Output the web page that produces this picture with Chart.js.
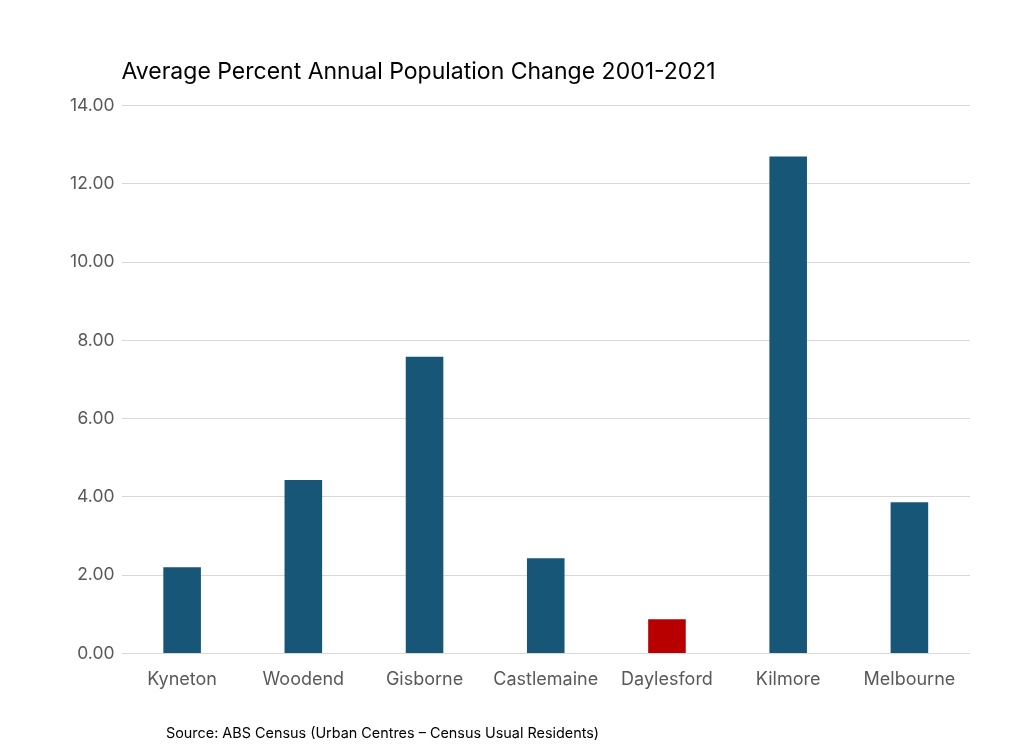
<!DOCTYPE html>
<html>
<head>
<meta charset="utf-8">
<script src="https://cdn.jsdelivr.net/npm/chart.js@4"></script>
<style>
  body { margin: 0; background: #fff; }
  #wrap { position: relative; width: 1010px; height: 753px; }
  #source { position: absolute; left: 166px; top: 724px; font: 14.4px Inter, sans-serif; color: #000; }
</style>
</head>
<body>
<div id="wrap">
  <canvas id="chartPop" width="1010" height="753"></canvas>
  <div id="source">Source: ABS Census (Urban Centres – Census Usual Residents)</div>
</div>
<script>
// data
const towns = ["Kyneton", "Woodend", "Gisborne", "Castlemaine", "Daylesford", "Kilmore", "Melbourne"];
const avgChange = [2.20, 4.43, 7.58, 2.43, 0.87, 12.70, 3.86];
const barColours = ["#175676", "#175676", "#175676", "#175676", "#B80000", "#175676", "#175676"];
const yTicks = [0, 2, 4, 6, 8, 10, 12, 14];

const ctx = document.querySelector("#chartPop").getContext('2d');

const popChart = new Chart(ctx, {
  type: 'bar',
  data: {
    labels: towns,
    datasets: [{
      label: 'Average Percent Annual Population Change',
      data: avgChange,
      backgroundColor: barColours,
      borderWidth: 0,
      categoryPercentage: 1,
      barPercentage: 0.31
    }]
  },
  options: {
    responsive: false,
    animation: false,
    layout: {
      padding: { left: 63, right: 40, top: 58, bottom: 56 }
    },
    plugins: {
      legend: { display: false },
      tooltip: { enabled: false },
      title: {
        display: true,
        text: 'Average Percent Annual Population Change 2001-2021',
        align: 'start',
        fullSize: false,
        color: '#000',
        font: { family: 'Inter', size: 23, weight: 'normal' },
        padding: { top: 0, bottom: 20 }
      }
    },
    scales: {
      x: {
        grid: { display: false },
        border: { display: false },
        ticks: {
          color: '#595959',
          font: { family: 'Inter', size: 18 },
          padding: 7
        }
      },
      y: {
        min: 0,
        max: 14,
        afterBuildTicks: (axis) => { axis.ticks = yTicks.map(v => ({ value: v })); },
        grid: { color: '#d9d9d9', drawTicks: false, lineWidth: 1 },
        border: { display: false },
        ticks: {
          color: '#595959',
          font: { family: 'Inter', size: 17.5 },
          padding: 7,
          callback: (v) => Number(v).toFixed(2)
        }
      }
    }
  }
});
</script>
</body>
</html>
